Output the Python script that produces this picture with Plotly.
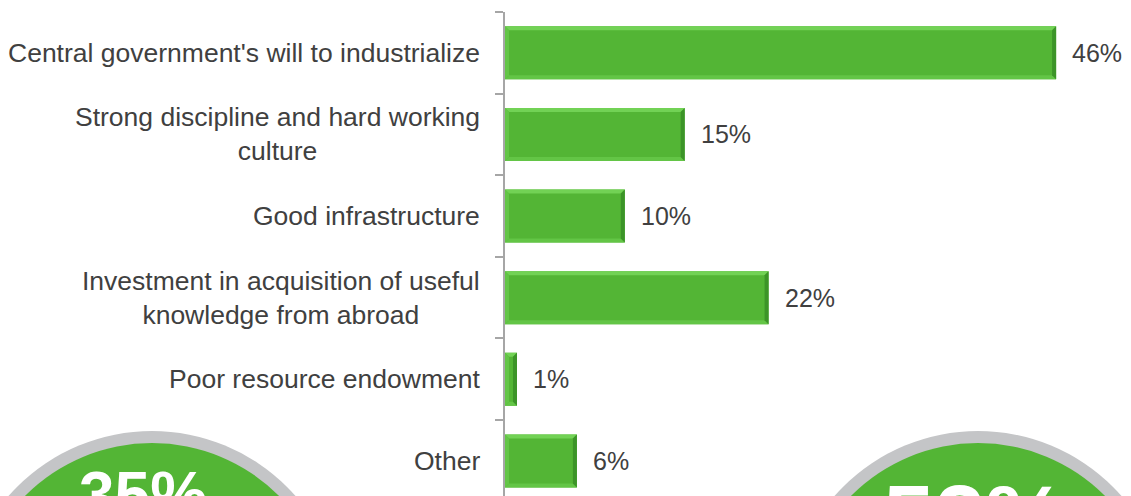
import plotly.graph_objects as go

# Survey results: drivers of industrialization
categories = [
    "Central government's will to industrialize",
    "Strong discipline and hard working<br>culture",
    "Good infrastructure",
    "Investment in acquisition of useful<br>knowledge from abroad",
    "Poor resource endowment",
    "Other",
]
shares = [46, 15, 10, 22, 1, 6]
value_labels = ["46%", "15%", "10%", "22%", "1%", "6%"]
badge_labels = ["35%", "52%"]

W, H = 1131, 496
M_L, M_R, M_T, M_B = 505, 0, 12, 0
PLOT_W = W - M_L - M_R
PLOT_H = H - M_T - M_B
X_MAX = 52.25
Y_TOP, Y_BOT = -0.5, 5.43

FONT = "Liberation Sans, Arial, sans-serif"
TXT = "#404040"
GREEN = "#53b535"
LIGHT = "#72d255"
LIGHT2 = "#63c546"
DARK = "#3c9428"
RING = "#c4c5c7"

ypos = list(range(len(categories)))
BAR_W = 0.65

fig = go.Figure()
fig.add_trace(go.Bar(
    x=shares, y=ypos, orientation="h", width=BAR_W,
    marker=dict(color=GREEN, line=dict(width=0)),
    hoverinfo="skip",
))

# bevelled edges on each bar, sized in pixels and converted to data units
px_x = PLOT_W / X_MAX
px_y = PLOT_H / (Y_BOT - Y_TOP)
bx = 4 / px_x
by = 4 / px_y
hh = BAR_W / 2
shapes = []


def poly(pts, color):
    d = "M " + " L ".join(f"{a},{b}" for a, b in pts) + " Z"
    return dict(type="path", path=d, xref="x", yref="y",
                fillcolor=color, line=dict(width=0), layer="above")


for yi, v in zip(ypos, shares):
    t, b = yi - hh, yi + hh
    ex = min(bx, v / 2)
    shapes.append(poly([(0, t), (v, t), (v - ex, t + by), (ex, t + by)], LIGHT))
    shapes.append(poly([(0, b), (v, b), (v - ex, b - by), (ex, b - by)], LIGHT2))
    shapes.append(poly([(0, t), (ex, t + by), (ex, b - by), (0, b)], LIGHT2))
    shapes.append(poly([(v, t), (v, b), (v - ex, b - by), (v - ex, t + by)], DARK))


def to_paper(px, py):
    return (px - M_L) / PLOT_W, (H - M_B - py) / PLOT_H


# round badges along the bottom edge
badge_centres = [(152, 622), (978, 622)]
R_OUT, R_IN = 191, 179
for (cx, cy) in badge_centres:
    for r, col in ((R_OUT, RING), (R_IN, GREEN)):
        x0, y1 = to_paper(cx - r, cy - r)
        x1, y0 = to_paper(cx + r, cy + r)
        shapes.append(dict(type="circle", xref="paper", yref="paper",
                           x0=x0, x1=x1, y0=y0, y1=y1,
                           fillcolor=col, line=dict(width=0), layer="above"))

annotations = []
for yi, cat in zip(ypos, categories):
    annotations.append(dict(
        x=0, xref="paper", y=yi, yref="y", text=cat, showarrow=False,
        xanchor="right", yanchor="middle", align="center", xshift=-23,
        font=dict(family=FONT, size=26.5, color=TXT),
    ))
for yi, v, lab in zip(ypos, shares, value_labels):
    annotations.append(dict(
        x=v, xref="x", y=yi, yref="y", text=lab, showarrow=False,
        xanchor="left", yanchor="middle", xshift=14,
        font=dict(family=FONT, size=25, color=TXT),
    ))

badge_text = [(143, 470, 64), (975, 483, 92)]
for (cx, top, size), lab in zip(badge_text, badge_labels):
    px, py = to_paper(cx, top - 0.2 * size)
    annotations.append(dict(
        x=px, xref="paper", y=py, yref="paper", text=f"<b>{lab}</b>",
        showarrow=False, xanchor="center", yanchor="top",
        font=dict(family=FONT, size=size, color="white"),
    ))

fig.update_layout(
    width=W, height=H,
    margin=dict(l=M_L, r=M_R, t=M_T, b=M_B, pad=0),
    paper_bgcolor="white", plot_bgcolor="white",
    showlegend=False,
    shapes=shapes, annotations=annotations,
    xaxis=dict(range=[0, X_MAX], visible=False, fixedrange=True),
    yaxis=dict(
        range=[Y_BOT, Y_TOP], showgrid=False, zeroline=False,
        showline=True, linecolor="#a6a6a6", linewidth=1.5,
        tickmode="array", tickvals=[i - 0.5 for i in range(len(categories) + 1)],
        ticks="outside", ticklen=8, tickcolor="#a6a6a6", tickwidth=1.5,
        showticklabels=False, fixedrange=True,
    ),
)

fig.write_html("out.html")
